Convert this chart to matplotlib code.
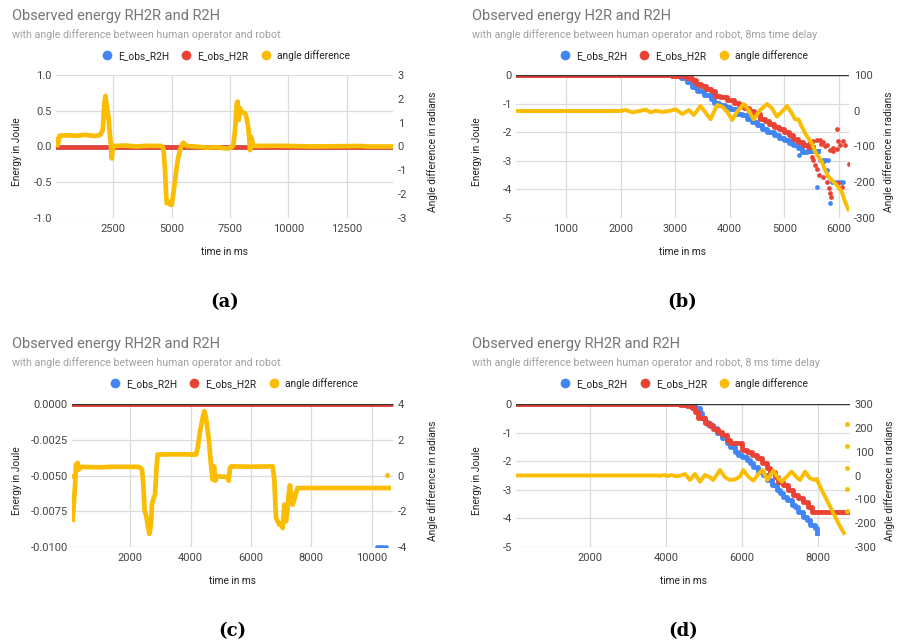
import matplotlib
matplotlib.use("Agg")
import matplotlib.pyplot as plt
from matplotlib.lines import Line2D

plt.rcParams['font.family'] = ['Roboto', 'DejaVu Sans']

BLUE = '#4285F4'
RED = '#EA4335'
YELLOW = '#FBBC04'
W, H = 898, 644

# ---------------- (a) ----------------
a_x_angle = [44, 80, 110, 150, 187, 500, 900, 1300, 1700, 1929, 2043, 2114, 2157, 2214, 2286,
             2357, 2400, 2429, 2471, 2529, 3000, 3500, 4000, 4571, 4642, 4713, 4756, 4785, 4856,
             4928, 4999, 5070, 5142, 5213, 5285, 5356, 5427, 5499, 5642, 6000, 6500, 6927, 7355,
             7569, 7641, 7712, 7784, 7826, 7869, 7926, 7998, 8141, 8212, 8283, 8326, 8355, 8398,
             8455, 8498, 9500, 11000, 13139, 13300, 14481]
a_angle = [0.13, 0.3, 0.05, 0.2, 0.45, 0.47, 0.45, 0.49, 0.44, 0.48, 0.69, 1.81, 2.12, 1.67, 1.25,
           0.41, -0.01, -0.5, -0.08, 0.02, 0.04, 0.0, 0.03, 0.02, -0.08, -0.99, -1.97, -2.38, -2.31,
           -2.43, -2.45, -1.97, -1.41, -0.85, -0.43, -0.15, 0.06, 0.16, 0.02, 0.0, -0.05, -0.03,
           -0.09, -0.03, 0.06, 0.69, 1.81, 1.88, 1.11, 1.6, 1.46, 1.39, 1.18, 0.76, 0.27, -0.15,
           0.41, 0.2, 0.02, 0.03, 0.0, 0.02, 0.0, 0.0]
a_x_energy = [44, 14481]
a_r2h = [0, 0]
a_h2r = [0, 0]

# ---------------- (b) ----------------
b_x_angle = [85, 1985, 2095, 2217, 2339, 2461, 2552, 2643, 2765, 2918, 3009, 3131, 3252, 3343,
             3465, 3557, 3648, 3770, 3861, 3953, 4044, 4135, 4256, 4347, 4438, 4560, 4682, 4774,
             4865, 4986, 5048, 5139, 5199, 5260, 5321, 5382, 5442, 5504, 5564, 5624, 5686, 5747,
             5807, 5898, 5960, 6051, 6112, 6172]
b_angle = [-0.7, -0.7, 2.1, -4.4, -1, 3, -4.4, 0, -3.5, 0.2, 4, -9.1, 2.1, -11.9, 13.3, -5.4,
           -24, 16.1, 11.4, -2.6, -25.9, -2.6, 18.9, 2.1, -24, 2.1, 18.9, 6.8, -16.5, 2.1, 13.3,
           -7.2, -24, -24, -44.5, -63.2, -77.1, -91.1, -114.4, -128.4, -142.4, -165.7, -184.4,
           -198.4, -207.7, -226.3, -254.3, -275.7]
b_x_h2r = [85, 2600, 2800, 2950, 3100, 3222, 3314, 3374, 3465, 3557, 3648, 3739, 3830, 3953,
           4073, 4164, 4256, 4347, 4438, 4560, 4652, 4712, 4803, 4894, 4986, 5077, 5168, 5259,
           5351, 5442, 5530]
b_h2r = [0, -0.005, -0.01, -0.02, -0.03, -0.1, -0.19, -0.3, -0.38, -0.48, -0.57, -0.73, -0.77,
         -0.89, -0.97, -1.06, -1.15, -1.27, -1.35, -1.53, -1.62, -1.7, -1.82, -1.9, -1.99, -2.11,
         -2.23, -2.34, -2.44, -2.52, -2.52]
b_x_h2r_pts = [5473, 5533, 5595, 5655, 5716, 5778, 5838, 5898, 5960, 5990, 6020, 6081, 6110,
               5960, 6190, 5500, 5533, 5560, 5595, 5640, 5716, 5778, 5810, 5838, 5850, 5990,
               6050, 5680, 5740, 5900]
b_h2r_pts = [-2.33, -2.3, -2.27, -2.27, -2.35, -2.45, -2.62, -2.65, -2.6, -2.3, -2.45, -2.3,
             -2.45, -1.88, -3.1, -2.85, -2.97, -3.15, -3.3, -3.5, -3.56, -3.75, -3.95, -4.14,
             -4.25, -3.79, -3.91, -2.4, -2.5, -2.55]
b_x_r2h = [85, 2750, 2950, 3100, 3222, 3314, 3405, 3526, 3648, 3709, 3800, 3922, 4013, 4135,
           4226, 4317, 4408, 4500, 4591, 4682, 4803, 4894, 4986, 5077, 5168, 5259, 5320, 5413,
           5625]
b_r2h = [0, -0.01, -0.04, -0.1, -0.24, -0.42, -0.57, -0.71, -0.83, -0.97, -1.04, -1.12, -1.18,
         -1.35, -1.41, -1.53, -1.64, -1.76, -1.9, -1.99, -2.11, -2.2, -2.29, -2.37, -2.46, -2.55,
         -2.69, -2.65, -2.65]
b_x_r2h_pts = [5655, 5700, 5750, 5800, 5778, 5595, 5838, 5880, 5930, 5980, 6030, 6081, 5260,
               5720]
b_r2h_pts = [-2.97, -2.97, -2.97, -2.97, -3.32, -3.91, -4.47, -3.73, -3.73, -3.73, -3.73, -3.73,
             -2.78, -3.0]

# ---------------- (c) ----------------
c_x_angle = [90, 112, 178, 200, 256, 289, 366, 1000, 1500, 2299, 2388, 2432, 2476, 2520, 2576,
             2631, 2686, 2719, 2774, 2819, 2874, 2907, 3500, 4177, 4233, 4310, 4398, 4453, 4509,
             4597, 4674, 4730, 4774, 4818, 4862, 5227, 5260, 5304, 5337, 6000, 6718, 6773, 6828,
             6939, 6994, 7049, 7104, 7160, 7204, 7248, 7292, 7337, 7381, 7436, 7491, 7546, 9000,
             10563]
c_angle = [-2.47, -2.0, -0.33, 0.61, 0.7, 0.33, 0.48, 0.46, 0.49, 0.48, 0.33, -0.51, -2.0,
           -2.19, -2.75, -3.27, -2.75, -1.63, -1.26, -1.07, 0.61, 1.17, 1.19, 1.17, 1.54, 2.47,
           3.22, 3.59, 3.22, 2.1, 0.61, -0.23, 0.51, -0.29, -0.05, -0.08, -0.29, 0.42, 0.51, 0.49,
           0.51, -0.23, -2.38, -2.75, -2.71, -2.94, -1.63, -2.56, -2.0, -1.07, -0.55, -1.26,
           -1.63, -1.35, -0.98, -0.7, -0.7, -0.7]
c_x_angle_pts = [68, 10507]
c_angle_pts = [0.0, 0.01]
c_x_energy = [68, 10600]
c_h2r = [0, 0]
c_x_r2h = [68, 10100]
c_r2h = [0, 0]
c_x_r2h_pts = [10180, 10250, 10320, 10390, 10460, 10640]
c_r2h_pts = [-0.01, -0.01, -0.01, -0.01, -0.01, 0.0]

# ---------------- (d) ----------------
d_x_angle = [65, 3760, 3850, 3950, 4050, 4150, 4250, 4373, 4505, 4636, 4767, 4898, 5030, 5161,
             5248, 5424, 5556, 5687, 5818, 5950, 6037, 6169, 6301, 6432, 6546, 6669, 6826, 6958,
             7045, 7177, 7308, 7440, 7527, 7659, 7790, 7921, 7966, 8053, 8139, 8228, 8315, 8402,
             8491, 8578, 8683]
d_angle = [0, 0, -1, 1.5, -2, 2, -3, -1, 6.3, -18.9, 6.3, -25.9, 2.1, -7.7, -18.9, 23.1, -7.7,
           -18.9, -16.1, -4.9, 23.1, -4.9, -21.7, 6.3, 23.1, -18.9, 20.3, -11.9, -25.9, -4.9,
           16.1, -7.7, -18.9, 16.1, -11.9, -18.9, -14, -46.9, -73.4, -101.5, -129.4, -157.4,
           -185.5, -213.3, -241.3]
d_x_angle_pts = [8765, 8762, 8762, 8758, 8758]
d_angle_pts = [217, 124, 33, -56, -149]
d_x_h2r = [65, 4373, 4549, 4681, 4767, 4854, 5030, 5161, 5248, 5380, 5469, 5600, 5687, 5994,
           6126, 6257, 6389, 6520, 6652, 6738, 6870, 6956, 7088, 7219, 7351, 7482, 7614, 7745,
           7834, 8840]
d_h2r = [0, -0.03, -0.07, -0.15, -0.27, -0.5, -0.68, -0.77, -0.89, -0.97, -1.08, -1.26, -1.35,
         -1.61, -1.67, -1.78, -1.9, -2.07, -2.25, -2.37, -2.54, -2.72, -2.83, -3.01, -3.18,
         -3.3, -3.42, -3.59, -3.77, -3.77]
d_x_r2h = [65, 4700, 4767, 4898, 4942, 5030, 5118, 5248, 5336, 5469, 5600, 5687, 5818, 5906,
           5994, 6126, 6213, 6301, 6432, 6564, 6652, 6783, 6914, 7001, 7088, 7176, 7307, 7395,
           7482, 7614, 7701, 7789, 7920, 7966]
d_r2h = [0, -0.03, -0.15, -0.33, -0.5, -0.62, -0.73, -0.85, -1.03, -1.2, -1.38, -1.49, -1.67,
         -1.78, -1.84, -1.96, -2.07, -2.19, -2.37, -2.48, -2.66, -2.83, -3.01, -3.12, -3.24,
         -3.36, -3.53, -3.59, -3.77, -3.94, -4.06, -4.23, -4.35, -4.52]

legend_labels = ['E_obs_R2H', 'E_obs_H2R', 'angle difference']


def fx(x):
    return x / W


def fy(y):
    return 1 - y / H


def make_panel(plot_px, xlim, xticks, ylim, yticks, ylabels, ylim2, yticks2, ylabels2,
               ox, title_y, title, subtitle, letter, baseline):
    x0, y0, x1, y1 = plot_px
    ax = fig.add_axes([fx(x0), fy(y1), (x1 - x0) / W, (y1 - y0) / H])
    ax.set_xlim(*xlim)
    ax.set_ylim(*ylim)
    ax.set_xticks(xticks)
    ax.set_xticklabels([str(t) for t in xticks])
    ax.set_yticks(yticks)
    ax.set_yticklabels(ylabels)
    ax.grid(True, color='#dcdcdc', lw=0.9)
    ax.set_axisbelow(True)
    for s in ax.spines.values():
        s.set_visible(False)
    ax.tick_params(length=0, labelsize=8, labelcolor='#444444', pad=3.0)
    ax.tick_params(axis='x', pad=4.5)
    if baseline:
        ax.axhline(0, color='#333333', lw=1.0, zorder=3)

    ax2 = ax.twinx()
    ax2.set_xlim(*xlim)
    ax2.set_ylim(*ylim2)
    ax2.set_yticks(yticks2)
    ax2.set_yticklabels(ylabels2)
    for s in ax2.spines.values():
        s.set_visible(False)
    ax2.tick_params(length=0, labelsize=8, labelcolor='#444444', pad=3.3)

    cx = (x0 + x1) / 2
    fig.text(fx(ox), fy(title_y), title, fontsize=10.5, color='#757575', va='baseline')
    fig.text(fx(ox), fy(title_y + 18.3), subtitle, fontsize=7.7, color='#a0a0a0', va='baseline')
    handles = [Line2D([], [], ls='none', marker='o', ms=7, mec='none', mfc=c)
               for c in (BLUE, RED, YELLOW)]
    fig.legend(handles, legend_labels, loc='center', bbox_to_anchor=(fx(cx + 1), fy(title_y + 35.5)),
               ncol=3, frameon=False, fontsize=7.3, handlelength=1.0, handletextpad=0.6,
               columnspacing=1.2, labelcolor='#222222', borderaxespad=0, borderpad=0)
    fig.text(fx(cx), fy(y1 + 34), 'time in ms', fontsize=7.3, color='#222222', ha='center',
             va='center')
    fig.text(fx(ox + 5), fy((y0 + y1) / 2 + 5), 'Energy in Joule', fontsize=7.3, color='#222222',
             rotation=90, ha='center', va='center')
    fig.text(fx(x1 + 39.5), fy((y0 + y1) / 2 + 5), 'Angle difference in radians', fontsize=7.3,
             color='#222222', rotation=90, ha='center', va='center')
    fig.text(fx(cx), fy(y1 + 84), letter, fontsize=13, fontweight='bold', family='DejaVu Serif',
             ha='center', va='center')
    return ax, ax2


fig = plt.figure(figsize=(W / 100, H / 100), dpi=100)

# (a)
ax, ax2 = make_panel((56, 75, 393, 218), (40, 14480), [2500, 5000, 7500, 10000, 12500],
                     (-1, 1), [-1, -0.5, 0, 0.5, 1], ['-1.0', '-0.5', '0.0', '0.5', '1.0'],
                     (-3, 3), [-3, -2, -1, 0, 1, 2, 3], ['-3', '-2', '-1', '0', '1', '2', '3'],
                     11.5, 20, 'Observed energy RH2R and R2H',
                     'with angle difference between human operator and robot', '(a)', False)
ax.plot(a_x_energy, a_r2h, color=BLUE, lw=3.3)
ax.plot(a_x_energy, a_h2r, color=RED, lw=3.3)
ax2.plot(a_x_angle, a_angle, color=YELLOW, lw=3.4, solid_joinstyle='round')

# (b)
ax, ax2 = make_panel((516, 75, 849, 218), (85, 6185), [1000, 2000, 3000, 4000, 5000, 6000],
                     (-5, 0), [-5, -4, -3, -2, -1, 0], ['-5', '-4', '-3', '-2', '-1', '0'],
                     (-300, 100), [-300, -200, -100, 0, 100], ['-300', '-200', '-100', '0', '100'],
                     471.5, 20, 'Observed energy H2R and R2H',
                     'with angle difference between human operator and robot, 8ms time delay',
                     '(b)', True)
ax.plot(b_x_r2h, b_r2h, color=BLUE, lw=3.5, drawstyle='steps-post')
ax.plot(b_x_r2h_pts, b_r2h_pts, ls='none', marker='o', ms=2.4, color=BLUE)
ax.plot(b_x_h2r, b_h2r, color=RED, lw=3.5, drawstyle='steps-post')
ax.plot(b_x_h2r_pts, b_h2r_pts, ls='none', marker='o', ms=2.4, color=RED)
ax2.plot(b_x_angle, b_angle, color=YELLOW, lw=2.8, solid_joinstyle='round')

# (c)
ax, ax2 = make_panel((72, 404, 393, 547), (68, 10706), [2000, 4000, 6000, 8000, 10000],
                     (-0.01, 0), [-0.01, -0.0075, -0.005, -0.0025, 0],
                     ['-0.0100', '-0.0075', '-0.0050', '-0.0025', '0.0000'],
                     (-4, 4), [-4, -2, 0, 2, 4], ['-4', '-2', '0', '2', '4'],
                     11.5, 348, 'Observed energy RH2R and R2H',
                     'with angle difference between human operator and robot', '(c)', True)
ax.plot(c_x_r2h, c_r2h, color=BLUE, lw=3.5)
ax.plot(c_x_r2h_pts, c_r2h_pts, ls='none', marker='o', ms=2.4, color=BLUE)
ax.plot(c_x_energy, c_h2r, color=RED, lw=3.5)
ax2.plot(c_x_angle, c_angle, color=YELLOW, lw=3.4, solid_joinstyle='round')
ax2.plot(c_x_angle_pts, c_angle_pts, ls='none', marker='o', ms=2.5, color=YELLOW)

# (d)
ax, ax2 = make_panel((516, 404, 850, 547), (65, 8841), [2000, 4000, 6000, 8000],
                     (-5, 0), [-5, -4, -3, -2, -1, 0], ['-5', '-4', '-3', '-2', '-1', '0'],
                     (-300, 300), [-300, -200, -100, 0, 100, 200, 300],
                     ['-300', '-200', '-100', '0', '100', '200', '300'],
                     471.5, 348, 'Observed energy RH2R and R2H',
                     'with angle difference between human operator and robot, 8 ms time delay',
                     '(d)', True)
ax.plot(d_x_r2h, d_r2h, color=BLUE, lw=3.5, drawstyle='steps-post')
ax.plot(d_x_h2r, d_h2r, color=RED, lw=3.5, drawstyle='steps-post')
ax2.plot(d_x_angle, d_angle, color=YELLOW, lw=2.8, solid_joinstyle='round')
ax2.plot(d_x_angle_pts, d_angle_pts, ls='none', marker='o', ms=2.5, color=YELLOW)

fig.savefig('out.png', dpi=100)
